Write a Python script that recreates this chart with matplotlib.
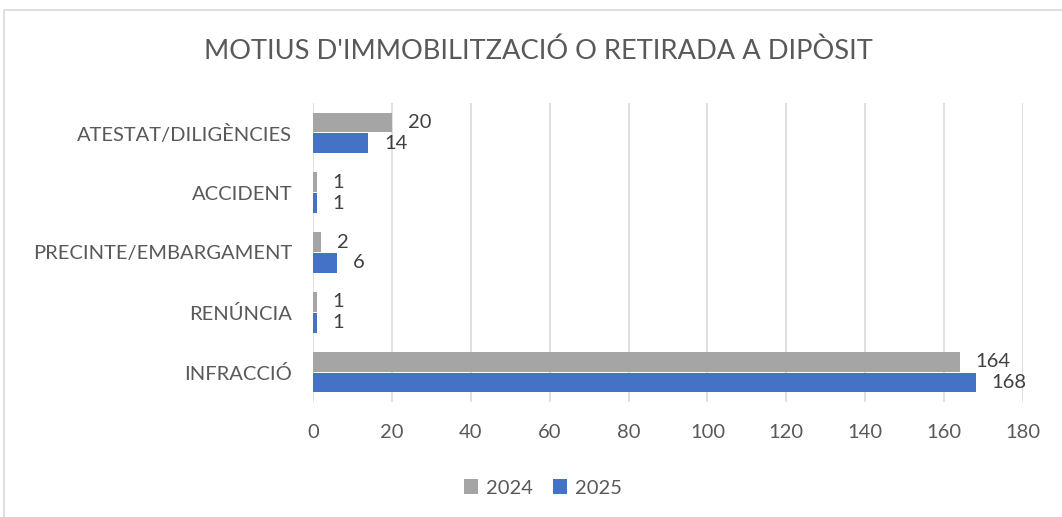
import matplotlib.pyplot as plt
from matplotlib.patches import Rectangle
import numpy as np

# --- Data (top to bottom as shown)
categories = ['ATESTAT/DILIGÈNCIES', 'ACCIDENT', 'PRECINTE/EMBARGAMENT', 'RENÚNCIA', 'INFRACCIÓ']
vals_2024 = [20, 1, 2, 1, 164]
vals_2025 = [14, 1, 6, 1, 168]
xticks = [0, 20, 40, 60, 80, 100, 120, 140, 160, 180]

plt.rcParams['font.family'] = ['Lato', 'DejaVu Sans']
txt = '#595959'
grey = '#A5A5A5'
blue = '#4472C4'
fs = 14.5

fig = plt.figure(figsize=(10.62, 5.17), dpi=100)
W, H = 1062, 517
# plot area in pixels: x 313..1023, y 103..402
ax = fig.add_axes([313 / W, 1 - 402 / H, 710 / W, 299 / H])

# outer chart border
fig.patches.append(Rectangle((4 / W, -0.1), 1.2, 1 - 10 / H + 0.1, transform=fig.transFigure,
                             fill=False, edgecolor='#D9D9D9', linewidth=1.2))

y = np.arange(len(categories))[::-1]
h = 0.33
ax.barh(y + 0.175, vals_2024, height=h, color=grey, label='2024', zorder=3)
ax.barh(y - 0.175, vals_2025, height=h, color=blue, label='2025', zorder=3)

for yi, v in zip(y, vals_2024):
    ax.text(v + 4, yi + 0.175, str(v), va='center', ha='left', fontsize=fs, color='#404040')
for yi, v in zip(y, vals_2025):
    ax.text(v + 4, yi - 0.175, str(v), va='center', ha='left', fontsize=fs, color='#404040')

ax.set_xlim(0, 180)
ax.set_ylim(-0.5, len(categories) - 0.5)
ax.set_xticks(xticks)
ax.set_yticks(y)
ax.set_yticklabels(categories)
ax.tick_params(axis='both', length=0, labelsize=fs, labelcolor=txt)
ax.tick_params(axis='x', pad=16)
ax.tick_params(axis='y', pad=15)
ax.grid(axis='x', color='#D9D9D9', linewidth=1.2, zorder=0)
for s in ax.spines.values():
    s.set_visible(False)

fig.text(538 / W, 1 - 51 / H, "MOTIUS D'IMMOBILITZACIÓ O RETIRADA A DIPÒSIT",
         ha='center', va='center', fontsize=19.6, color=txt)

fig.legend(loc='center', bbox_to_anchor=(543 / W, 1 - 488 / H), ncol=2, frameon=False,
           fontsize=fs, labelcolor=txt, handlelength=0.7, handleheight=0.7,
           handletextpad=0.4, columnspacing=1.0)

fig.savefig('out.png', dpi=100)
